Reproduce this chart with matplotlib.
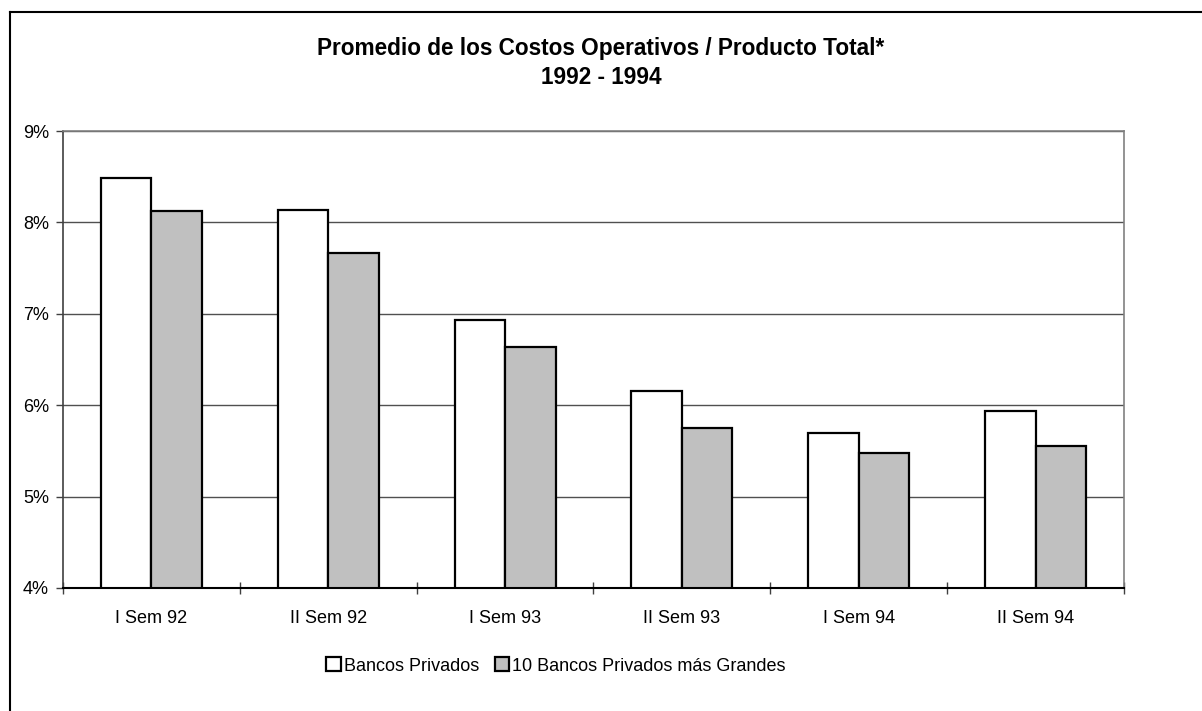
import numpy as np
import matplotlib.pyplot as plt
from matplotlib.lines import Line2D
from matplotlib.patches import Patch
from matplotlib.ticker import FuncFormatter

plt.rcParams['font.family'] = ['Liberation Sans', 'DejaVu Sans']

periodos = ['I Sem 92', 'II Sem 92', 'I Sem 93', 'II Sem 93', 'I Sem 94', 'II Sem 94']
bancos_privados = [8.49, 8.14, 6.93, 6.16, 5.70, 5.94]
bancos_grandes = [8.13, 7.66, 6.64, 5.75, 5.48, 5.55]
series = ['Bancos Privados', '10 Bancos Privados más Grandes']

fig = plt.figure(figsize=(12.02, 7.11), dpi=100)
ax = fig.add_axes([63 / 1202, 1 - 588 / 711, 1061 / 1202, 457 / 711])

x = np.arange(len(periodos))
w = 0.286
ax.bar(x - w / 2, bancos_privados, w, color='white', edgecolor='black', linewidth=1.6, zorder=3)
ax.bar(x + w / 2, bancos_grandes, w, color='#c0c0c0', edgecolor='black', linewidth=1.6, zorder=3)

ax.set_xlim(-0.5, len(periodos) - 0.5)
ax.set_ylim(4, 9)
ax.set_yticks(range(4, 10))
ax.yaxis.set_major_formatter(FuncFormatter(lambda v, p: f'{v:.0f}%'))
ax.grid(axis='y', color='#505050', linewidth=1.0, zorder=0)

ax.set_xticks(x)
ax.set_xticklabels(periodos)
ax.set_xticks(np.arange(len(periodos) + 1) - 0.5, minor=True)
ax.tick_params(axis='x', which='major', length=0, pad=16, labelsize=13)
ax.tick_params(axis='x', which='minor', direction='inout', length=8, width=1, color='#404040')
ax.tick_params(axis='y', direction='out', length=5, width=1, color='#404040', pad=5, labelsize=13)

for side in ['top', 'right']:
    ax.spines[side].set_color('#808080')
    ax.spines[side].set_linewidth(1.2)
ax.spines['left'].set_color('#404040')
ax.spines['left'].set_linewidth(1.2)
ax.spines['bottom'].set_color('black')
ax.spines['bottom'].set_linewidth(1.5)
ax.spines['bottom'].set_zorder(4)

fig.text(0.5, 1 - 48 / 711, 'Promedio de los Costos Operativos / Producto Total*',
         ha='center', va='center', fontsize=16.3, fontweight='bold')
fig.text(0.5, 1 - 78 / 711, '1992 - 1994', ha='center', va='center', fontsize=16.3, fontweight='bold')

handles = [Patch(facecolor='white', edgecolor='black', linewidth=1.6),
           Patch(facecolor='#c0c0c0', edgecolor='black', linewidth=1.6)]
fig.legend(handles, series, loc='center', bbox_to_anchor=(556 / 1202, 1 - 666 / 711), ncol=2,
           frameon=False, fontsize=13, handlelength=0.8, handleheight=0.8,
           handletextpad=0.15, columnspacing=0.9)

# chart border, top and left edges only
fig.add_artist(Line2D([10 / 1202, 1.0], [1 - 12 / 711, 1 - 12 / 711], color='black', linewidth=1.5))
fig.add_artist(Line2D([10 / 1202, 10 / 1202], [0.0, 1 - 12 / 711], color='black', linewidth=1.5))

fig.savefig('out.png', dpi=100)
